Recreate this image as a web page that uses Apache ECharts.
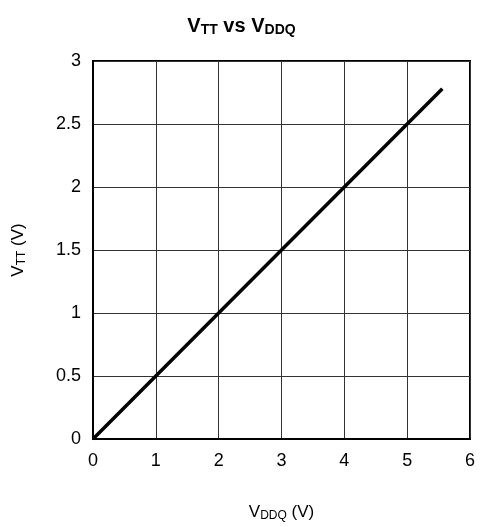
<!DOCTYPE html>
<html lang="en">
<head>
    <meta charset="UTF-8">
    <title>VTT vs VDDQ</title>
    <script src="https://cdn.jsdelivr.net/npm/echarts@6/dist/echarts.min.js"></script>
    <style>
        html, body { margin: 0; padding: 0; background: #fff; }
    </style>
</head>
<body>
<div id="chart" style="width:483px;height:527px;"></div>
<script>
    // values
    var vddq = [0, 1, 2, 3, 4, 5, 5.56];
    var vtt = [0, 0.5, 1, 1.5, 2, 2.5, 2.78];

    var points = [];
    for (var i = 0; i < vddq.length; i++) {
        points.push([vddq[i], vtt[i]]);
    }

    var font = 'Liberation Sans, Arial, sans-serif';
    var chart = echarts.init(document.getElementById('chart'));

    var nameRich = {
        v: { fontFamily: font, fontSize: 17, color: '#000', lineHeight: 22 },
        s: { fontFamily: font, fontSize: 12, color: '#000', lineHeight: 22, padding: [8, 0, 0, 0] }
    };

    var option = {
        animation: false,
        backgroundColor: '#fff',
        title: {
            text: '{v|V}{s|TT}{v| vs V}{s|DDQ}',
            left: 'center',
            top: 8,
            textStyle: {
                rich: {
                    v: { fontFamily: font, fontWeight: 'bold', fontSize: 20, color: '#000', lineHeight: 26 },
                    s: { fontFamily: font, fontWeight: 'bold', fontSize: 14, color: '#000', lineHeight: 26, padding: [9, 0, 0, 0] }
                }
            }
        },
        grid: {
            left: 91,
            right: 13,
            top: 61,
            bottom: 87,
            show: true,
            borderColor: '#000',
            borderWidth: 2
        },
        xAxis: {
            type: 'value',
            min: 0,
            max: 6,
            interval: 1,
            name: '{v|V}{s|DDQ}{v| (V)}',
            nameLocation: 'middle',
            nameGap: 62,
            nameTextStyle: { rich: nameRich },
            axisLine: { show: true, lineStyle: { color: '#000', width: 2 } },
            axisTick: { show: false },
            axisLabel: { color: '#000', fontFamily: font, fontSize: 18, margin: 13 },
            splitLine: { show: true, lineStyle: { color: '#333', width: 1 } }
        },
        yAxis: {
            type: 'value',
            min: 0,
            max: 3,
            interval: 0.5,
            name: '{v|V}{s|TT}{v| (V)}',
            nameLocation: 'middle',
            nameGap: 64,
            nameRotate: 90,
            nameTextStyle: { rich: nameRich },
            axisLine: { show: true, lineStyle: { color: '#000', width: 2 } },
            axisTick: { show: false },
            axisLabel: { color: '#000', fontFamily: font, fontSize: 18, margin: 12 },
            splitLine: { show: true, lineStyle: { color: '#333', width: 1 } }
        },
        series: [
            {
                type: 'line',
                data: points,
                showSymbol: false,
                lineStyle: { color: '#000', width: 3.5 }
            }
        ]
    };

    chart.setOption(option);
</script>
</body>
</html>
